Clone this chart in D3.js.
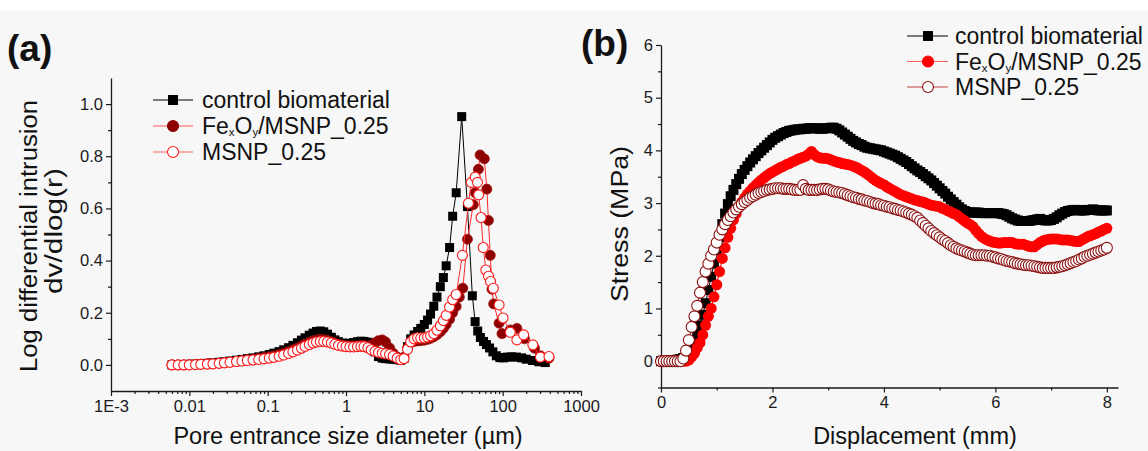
<!DOCTYPE html>
<html><head><meta charset="utf-8">
<script src="https://cdn.jsdelivr.net/npm/d3@7"></script>
<style>
html,body{margin:0;padding:0;background:#f7f7f7;}
svg{display:block;font-family:"Liberation Sans",Arial,sans-serif;}
</style></head>
<body>
<svg id="c" width="1148" height="451"></svg>
<script>
// ---------- Panel (a) data: pore entrance size (µm) vs log differential intrusion ----------
const seriesNames = ["control biomaterial", "FexOy/MSNP_0.25", "MSNP_0.25"];
const ctrlPoreX = [0.006,0.0072,0.0085,0.01,0.012,0.014,0.017,0.02,0.024,0.028,0.033,0.04,0.047,0.055,0.065,0.077,0.09,0.105,0.12,0.14,0.16,0.185,0.21,0.24,0.27,0.3,0.34,0.38,0.42,0.47,0.52,0.58,0.65,0.72,0.8,0.9,1.0,1.12,1.25,1.4,1.55,1.7,1.9,2.1,2.35,2.6,2.9,3.2,3.6,4.0,4.5,5.0,5.5,6.1,6.7,7.4,8.2,9.0,10,11,12,13.2,14.5,16,17.5,19,21,23,25.5,30,35.5,41,44.5,48,52,57,62,68,75,83,92,102,115,130,150,175,200,240,290,350];
const ctrlPoreY = [0,0,0.001,0.002,0.003,0.004,0.006,0.008,0.01,0.012,0.015,0.018,0.021,0.024,0.027,0.031,0.035,0.04,0.045,0.051,0.058,0.066,0.075,0.085,0.095,0.104,0.114,0.122,0.128,0.13,0.127,0.118,0.106,0.096,0.089,0.084,0.082,0.083,0.086,0.089,0.091,0.09,0.087,0.075,0.05,0.032,0.026,0.024,0.023,0.022,0.02,0.018,0.025,0.07,0.1,0.115,0.128,0.14,0.155,0.172,0.195,0.225,0.26,0.3,0.335,0.38,0.45,0.57,0.66,0.952,0.607,0.265,0.166,0.13,0.105,0.09,0.078,0.065,0.05,0.035,0.028,0.027,0.03,0.031,0.03,0.027,0.022,0.017,0.012,0.009];

const feoPoreX = [0.006,0.0072,0.0085,0.01,0.012,0.014,0.017,0.02,0.024,0.028,0.033,0.04,0.047,0.055,0.065,0.077,0.09,0.105,0.12,0.14,0.16,0.185,0.21,0.24,0.27,0.3,0.34,0.38,0.42,0.47,0.52,0.58,0.65,0.72,0.8,0.9,1.0,1.12,1.25,1.4,1.55,1.7,1.9,2.1,2.35,2.6,2.9,3.2,3.6,4.0,4.5,5.0,5.5,6.1,6.7,7.4,8.2,9.0,10,11,12,13.2,14.5,16,17.5,19,21,23,25.5,28,31,35.5,42.2,44.6,49,51.5,58.3,62.8,65.8,69.5,73,76.7,90,98,125,152,190,255,303,390];
const feoPoreY = [0,0,0,0.001,0.002,0.003,0.004,0.005,0.007,0.009,0.011,0.014,0.017,0.02,0.022,0.025,0.028,0.031,0.035,0.04,0.045,0.051,0.058,0.065,0.073,0.08,0.087,0.092,0.096,0.098,0.097,0.094,0.089,0.084,0.079,0.075,0.073,0.072,0.072,0.073,0.074,0.074,0.072,0.075,0.085,0.093,0.096,0.088,0.065,0.045,0.03,0.022,0.03,0.065,0.085,0.09,0.092,0.093,0.095,0.098,0.102,0.108,0.116,0.127,0.14,0.155,0.175,0.2,0.224,0.26,0.294,0.482,0.614,0.66,0.75,0.805,0.79,0.674,0.554,0.42,0.29,0.234,0.16,0.12,0.134,0.14,0.1,0.064,0.035,0.026];

const msnPoreX = [0.006,0.0072,0.0085,0.01,0.012,0.014,0.017,0.02,0.024,0.028,0.033,0.04,0.047,0.055,0.065,0.077,0.09,0.105,0.12,0.14,0.16,0.185,0.21,0.24,0.27,0.3,0.34,0.38,0.42,0.47,0.52,0.58,0.65,0.72,0.8,0.9,1.0,1.12,1.25,1.4,1.55,1.7,1.9,2.1,2.35,2.6,2.9,3.2,3.6,4.0,4.5,5.0,5.5,6.1,6.7,7.4,8.2,9.0,10,11,12,13.2,14.5,16,17.5,19,21,23,25.5,30.6,36.6,39.8,44.6,47.7,49.4,53,56.5,61,66,70,76,90,101,125,152,185,243,303,390];
const msnPoreY = [0,0,0,0,0.001,0.002,0.003,0.004,0.006,0.008,0.01,0.013,0.015,0.017,0.019,0.021,0.023,0.026,0.029,0.033,0.038,0.044,0.05,0.057,0.064,0.071,0.078,0.084,0.088,0.09,0.09,0.088,0.084,0.079,0.075,0.072,0.07,0.069,0.069,0.07,0.071,0.07,0.066,0.058,0.052,0.048,0.045,0.043,0.04,0.034,0.026,0.02,0.024,0.06,0.088,0.1,0.104,0.103,0.104,0.107,0.112,0.12,0.133,0.15,0.17,0.19,0.222,0.25,0.27,0.42,0.62,0.7,0.72,0.7,0.652,0.565,0.45,0.364,0.34,0.32,0.294,0.23,0.18,0.125,0.096,0.115,0.077,0.03,0.032];

const poreTicks = [0.001,0.01,0.1,1,10,100,1000];
const poreTickLabels = ["1E-3","0.01","0.1","1","10","100","1000"];
const intrusionTicks = [0.0,0.2,0.4,0.6,0.8,1.0];

// ---------- Panel (b) data: displacement (mm) vs stress (MPa) ----------
const dispMM = [
 0,0.05,0.1,0.15,0.2,0.25,0.3,0.35,0.4,0.45,
 0.5,0.55,0.6,0.65,0.7,0.75,0.8,0.85,0.9,0.95,
 1.0,1.05,1.1,1.15,1.2,1.25,1.3,1.35,1.4,1.45,
 1.5,1.55,1.6,1.65,1.7,1.75,1.8,1.85,1.9,1.95,
 2.0,2.05,2.1,2.15,2.2,2.25,2.3,2.35,2.4,2.45,
 2.5,2.55,2.6,2.65,2.7,2.75,2.8,2.85,2.9,2.95,
 3.0,3.05,3.1,3.15,3.2,3.25,3.3,3.35,3.4,3.45,
 3.5,3.55,3.6,3.65,3.7,3.75,3.8,3.85,3.9,3.95,
 4.0,4.05,4.1,4.15,4.2,4.25,4.3,4.35,4.4,4.45,
 4.5,4.55,4.6,4.65,4.7,4.75,4.8,4.85,4.9,4.95,
 5.0,5.05,5.1,5.15,5.2,5.25,5.3,5.35,5.4,5.45,
 5.5,5.55,5.6,5.65,5.7,5.75,5.8,5.85,5.9,5.95,
 6.0,6.05,6.1,6.15,6.2,6.25,6.3,6.35,6.4,6.45,
 6.5,6.55,6.6,6.65,6.7,6.75,6.8,6.85,6.9,6.95,
 7.0,7.05,7.1,7.15,7.2,7.25,7.3,7.35,7.4,7.45,
 7.5,7.55,7.6,7.65,7.7,7.75,7.8,7.85,7.9,7.95,
 8.0];
const ctrlStress = [
 0,0,0,0,0.01,0.02,0.03,0.04,0.06,0.10,
 0.15,0.25,0.35,0.50,0.68,0.88,1.10,1.35,1.60,1.85,
 2.10,2.35,2.60,2.80,2.98,3.13,3.25,3.36,3.46,3.55,
 3.63,3.70,3.77,3.83,3.89,3.95,4.00,4.05,4.10,4.15,
 4.20,4.24,4.27,4.30,4.33,4.35,4.37,4.38,4.39,4.40,
 4.40,4.41,4.41,4.42,4.42,4.42,4.42,4.41,4.41,4.42,
 4.42,4.43,4.43,4.41,4.38,4.34,4.30,4.26,4.22,4.18,
 4.15,4.12,4.10,4.07,4.05,4.04,4.03,4.02,4.01,4.00,
 3.98,3.96,3.94,3.92,3.90,3.87,3.84,3.81,3.78,3.74,
 3.70,3.66,3.62,3.59,3.55,3.51,3.47,3.43,3.38,3.33,
 3.28,3.23,3.18,3.12,3.07,3.02,2.97,2.92,2.88,2.85,
 2.83,2.82,2.82,2.82,2.82,2.81,2.81,2.81,2.81,2.81,
 2.81,2.81,2.80,2.79,2.77,2.74,2.71,2.69,2.67,2.66,
 2.66,2.66,2.66,2.67,2.68,2.69,2.70,2.68,2.67,2.67,
 2.68,2.70,2.73,2.77,2.80,2.83,2.85,2.86,2.87,2.87,
 2.86,2.86,2.86,2.87,2.87,2.88,2.87,2.86,2.86,2.86,
 2.86];
const feoStress = [
 0,0,0,0,0,0,0,0,0,0,
 0.02,0.08,0.15,0.25,0.35,0.50,0.68,0.85,1.00,1.22,
 1.45,1.70,1.95,2.15,2.35,2.52,2.68,2.80,2.92,3.02,
 3.10,3.17,3.23,3.29,3.34,3.39,3.44,3.48,3.52,3.56,
 3.59,3.62,3.65,3.68,3.70,3.73,3.75,3.78,3.80,3.83,
 3.85,3.87,3.89,3.93,3.98,3.92,3.88,3.86,3.85,3.85,
 3.84,3.82,3.80,3.78,3.77,3.75,3.74,3.73,3.72,3.70,
 3.68,3.65,3.62,3.59,3.55,3.51,3.47,3.43,3.40,3.37,
 3.35,3.31,3.28,3.25,3.22,3.19,3.16,3.14,3.12,3.10,
 3.08,3.06,3.05,3.03,3.02,3.00,2.98,2.96,2.95,2.94,
 2.93,2.90,2.88,2.85,2.83,2.80,2.78,2.74,2.70,2.66,
 2.62,2.59,2.55,2.48,2.42,2.37,2.33,2.30,2.28,2.26,
 2.25,2.24,2.24,2.25,2.25,2.25,2.25,2.23,2.22,2.22,
 2.22,2.20,2.18,2.17,2.17,2.21,2.25,2.28,2.30,2.31,
 2.32,2.32,2.32,2.31,2.30,2.30,2.30,2.29,2.28,2.27,
 2.27,2.30,2.33,2.36,2.38,2.40,2.42,2.45,2.47,2.50,
 2.52];
const msnStress = [
 0,0,0,0,0,0,0,0,0.05,0.20,
 0.40,0.65,0.85,1.05,1.30,1.50,1.70,1.85,2.00,2.12,
 2.25,2.40,2.50,2.60,2.68,2.75,2.82,2.88,2.93,2.98,
 3.02,3.06,3.10,3.13,3.16,3.19,3.21,3.23,3.25,3.26,
 3.27,3.28,3.28,3.28,3.27,3.27,3.27,3.26,3.25,3.25,
 3.25,3.34,3.27,3.25,3.25,3.25,3.25,3.26,3.27,3.27,
 3.26,3.24,3.22,3.21,3.20,3.19,3.17,3.15,3.13,3.11,
 3.10,3.08,3.07,3.05,3.04,3.02,3.00,2.99,2.98,2.96,
 2.95,2.93,2.92,2.90,2.89,2.87,2.86,2.84,2.82,2.80,
 2.78,2.75,2.72,2.67,2.62,2.57,2.52,2.47,2.43,2.39,
 2.35,2.31,2.28,2.24,2.20,2.17,2.14,2.12,2.10,2.08,
 2.06,2.04,2.02,2.01,2.01,2.01,2.01,2.00,2.00,1.98,
 1.97,1.95,1.94,1.92,1.90,1.89,1.88,1.86,1.85,1.84,
 1.83,1.82,1.82,1.81,1.80,1.79,1.78,1.77,1.77,1.77,
 1.77,1.77,1.78,1.79,1.80,1.82,1.84,1.86,1.88,1.90,
 1.93,1.95,1.98,2.00,2.02,2.04,2.06,2.08,2.10,2.12,
 2.15];

const dispTicks = [0,2,4,6,8];
const stressTicks = [0,1,2,3,4,5,6];

// ---------- drawing ----------
const svg = d3.select("#c");
svg.append("rect").attr("x",0).attr("y",0).attr("width",1148).attr("height",10).attr("fill","#ffffff");
const AX = "#1a1a1a";
const FONT = "'Liberation Sans', Arial, sans-serif";

function styleAxis(g){
  g.selectAll(".domain").attr("stroke",AX).attr("stroke-width",1.3);
  g.selectAll(".tick line").attr("stroke",AX).attr("stroke-width",1.2);
  g.selectAll(".tick text").attr("fill","#1a1a1a").style("font-size","16.5px").style("font-family",FONT);
}

// ===== Panel (a) =====
const xA = d3.scaleLog().domain([1e-3,1000]).range([111,581]);
const yA = d3.scaleLinear().domain([-0.1,1.1]).range([391,78]);

const minorA = [];
for (let e=-3;e<3;e++){ for(let m=2;m<10;m++){ minorA.push(m*Math.pow(10,e)); } }
const gxA = svg.append("g").attr("transform","translate(0,391)")
  .call(d3.axisBottom(xA).tickValues(poreTicks).tickSize(5).tickSizeOuter(0).tickPadding(4)
    .tickFormat((d,i)=>poreTickLabels[i]));
styleAxis(gxA);
const gxAm = svg.append("g").attr("transform","translate(0,391)")
  .call(d3.axisBottom(xA).tickValues(minorA).tickSize(3).tickFormat(""));
styleAxis(gxAm); gxAm.select(".domain").remove();

const gyA = svg.append("g").attr("transform","translate(111,0)")
  .call(d3.axisLeft(yA).tickValues(intrusionTicks).tickSize(5).tickSizeOuter(0).tickPadding(3)
    .tickFormat(d3.format(".1f")));
styleAxis(gyA);
const gyAm = svg.append("g").attr("transform","translate(111,0)")
  .call(d3.axisLeft(yA).tickValues([0.1,0.3,0.5,0.7,0.9]).tickSize(3).tickFormat(""));
styleAxis(gyAm); gyAm.select(".domain").remove();

function zipXY(xs,ys){ return xs.map((x,i)=>[x,ys[i]]); }
const ctrlA = zipXY(ctrlPoreX,ctrlPoreY), feoA = zipXY(feoPoreX,feoPoreY), msnA = zipXY(msnPoreX,msnPoreY);
const lineA = d3.line().x(d=>xA(d[0])).y(d=>yA(d[1]));

svg.append("path").datum(ctrlA).attr("d",lineA).attr("fill","none").attr("stroke","#000").attr("stroke-width",1);
svg.append("g").selectAll("rect").data(ctrlA).join("rect")
  .attr("x",d=>xA(d[0])-4.5).attr("y",d=>yA(d[1])-4.5).attr("width",9).attr("height",9).attr("fill","#000");

svg.append("path").datum(feoA).attr("d",lineA).attr("fill","none").attr("stroke","#ff2a2a").attr("stroke-width",1);
svg.append("g").selectAll("circle").data(feoA).join("circle")
  .attr("cx",d=>xA(d[0])).attr("cy",d=>yA(d[1])).attr("r",5).attr("fill","#8e0000").attr("stroke","#a01010").attr("stroke-width",0.8);

svg.append("path").datum(msnA).attr("d",lineA).attr("fill","none").attr("stroke","#ff3030").attr("stroke-width",1);
svg.append("g").selectAll("circle").data(msnA).join("circle")
  .attr("cx",d=>xA(d[0])).attr("cy",d=>yA(d[1])).attr("r",5).attr("fill","#ffffff").attr("stroke","#ff1a1a").attr("stroke-width",1.1);

// axis titles (a)
svg.append("text").attr("x",348).attr("y",444).attr("text-anchor","middle")
  .style("font-size","23.5px").style("font-family",FONT).attr("fill","#111").text("Pore entrance size diameter (µm)");
svg.append("text").attr("transform","translate(37,236) rotate(-90)").attr("text-anchor","middle")
  .attr("textLength",272).attr("lengthAdjust","spacingAndGlyphs")
  .style("font-size","23.5px").style("font-family",FONT).attr("fill","#111").text("Log differential intrusion");
svg.append("text").attr("transform","translate(62,231) rotate(-90)").attr("text-anchor","middle")
  .attr("textLength",126).attr("lengthAdjust","spacingAndGlyphs")
  .style("font-size","23.5px").style("font-family",FONT).attr("fill","#111").text("dv/dlog(r)");
svg.append("text").attr("x",7).attr("y",61).style("font-size","37px").style("font-weight","bold")
  .style("font-family",FONT).attr("fill","#111").text("(a)");

// ===== Panel (b) =====
const xB = d3.scaleLinear().domain([0,8.2]).range([661,1118]);
const yB = d3.scaleLinear().domain([-0.5,6]).range([387.5,45]);

const gxB = svg.append("g").attr("transform","translate(0,387.5)")
  .call(d3.axisBottom(xB).tickValues(dispTicks).tickSize(5).tickSizeOuter(0).tickPadding(4).tickFormat(d3.format("d")));
styleAxis(gxB);
const gxBm = svg.append("g").attr("transform","translate(0,387.5)")
  .call(d3.axisBottom(xB).tickValues([1,3,5,7]).tickSize(3).tickFormat(""));
styleAxis(gxBm); gxBm.select(".domain").remove();
const gyB = svg.append("g").attr("transform","translate(661,0)")
  .call(d3.axisLeft(yB).tickValues(stressTicks).tickSize(5).tickSizeOuter(0).tickPadding(3).tickFormat(d3.format("d")));
styleAxis(gyB);
const gyBm = svg.append("g").attr("transform","translate(661,0)")
  .call(d3.axisLeft(yB).tickValues([-0.5,0.5,1.5,2.5,3.5,4.5,5.5]).tickSize(3).tickFormat(""));
styleAxis(gyBm); gyBm.select(".domain").remove();

const ctrlB = zipXY(dispMM,ctrlStress), feoB = zipXY(dispMM,feoStress), msnB = zipXY(dispMM,msnStress);
const lineB = d3.line().x(d=>xB(d[0])).y(d=>yB(d[1]));

svg.append("path").datum(ctrlB).attr("d",lineB).attr("fill","none").attr("stroke","#000").attr("stroke-width",1);
svg.append("g").selectAll("rect").data(ctrlB).join("rect")
  .attr("x",d=>xB(d[0])-5).attr("y",d=>yB(d[1])-5).attr("width",10).attr("height",10).attr("fill","#000");
svg.append("path").datum(feoB).attr("d",lineB).attr("fill","none").attr("stroke","#ff0000").attr("stroke-width",1);
svg.append("g").selectAll("circle").data(feoB).join("circle")
  .attr("cx",d=>xB(d[0])).attr("cy",d=>yB(d[1])).attr("r",5.5).attr("fill","#ff0000");
svg.append("path").datum(msnB).attr("d",lineB).attr("fill","none").attr("stroke","#9a1a1a").attr("stroke-width",1);
svg.append("g").selectAll("circle").data(msnB).join("circle")
  .attr("cx",d=>xB(d[0])).attr("cy",d=>yB(d[1])).attr("r",5.5).attr("fill","#ffffff").attr("stroke","#8b0f0f").attr("stroke-width",1.1);

svg.append("text").attr("x",915).attr("y",444).attr("text-anchor","middle")
  .style("font-size","23.5px").style("font-family",FONT).attr("fill","#111").text("Displacement (mm)");
svg.append("text").attr("transform","translate(628,224) rotate(-90)").attr("text-anchor","middle")
  .attr("textLength",156).attr("lengthAdjust","spacingAndGlyphs")
  .style("font-size","23.5px").style("font-family",FONT).attr("fill","#111").text("Stress (MPa)");
svg.append("text").attr("x",581).attr("y",56).style("font-size","37px").style("font-weight","bold")
  .style("font-family",FONT).attr("fill","#111").text("(b)");

// ===== Legends =====
function legend(x0, x1, xm, xt, rows, size, styles){
  const g = svg.append("g");
  rows.forEach((ry,i)=>{
    const s = styles[i];
    g.append("line").attr("x1",x0).attr("x2",x1).attr("y1",ry).attr("y2",ry).attr("stroke",s.line).attr("stroke-width",1);
    if (s.shape==="sq"){
      g.append("rect").attr("x",xm-5).attr("y",ry-5).attr("width",10).attr("height",10).attr("fill",s.fill);
    } else {
      g.append("circle").attr("cx",xm).attr("cy",ry).attr("r",5.5).attr("fill",s.fill).attr("stroke",s.stroke).attr("stroke-width",1.1);
    }
    const t = g.append("text").attr("x",xt).attr("y",ry+8).style("font-size",size+"px").style("font-family",FONT).attr("fill","#111");
    if (i===1){
      t.append("tspan").text("Fe");
      t.append("tspan").attr("dy",2).style("font-size",(size*0.5)+"px").text("x");
      t.append("tspan").attr("dy",-2).text("O");
      t.append("tspan").attr("dy",2).style("font-size",(size*0.5)+"px").text("y");
      t.append("tspan").attr("dy",-2).text("/MSNP_0.25");
    } else {
      t.text(seriesNames[i]);
    }
  });
}
legend(153,193,173,202,[100,126,152],23,[
  {shape:"sq",fill:"#000",line:"#000"},
  {shape:"c",fill:"#8e0000",stroke:"#8e0000",line:"#ff5555"},
  {shape:"c",fill:"#fff",stroke:"#ff1a1a",line:"#ff6666"}]);
legend(907,948,928,955,[36,61.5,87],23,[
  {shape:"sq",fill:"#000",line:"#000"},
  {shape:"c",fill:"#ff0000",stroke:"#ff0000",line:"#ff6060"},
  {shape:"c",fill:"#fff",stroke:"#8b0f0f",line:"#c04040"}]);
</script>
</body></html>
